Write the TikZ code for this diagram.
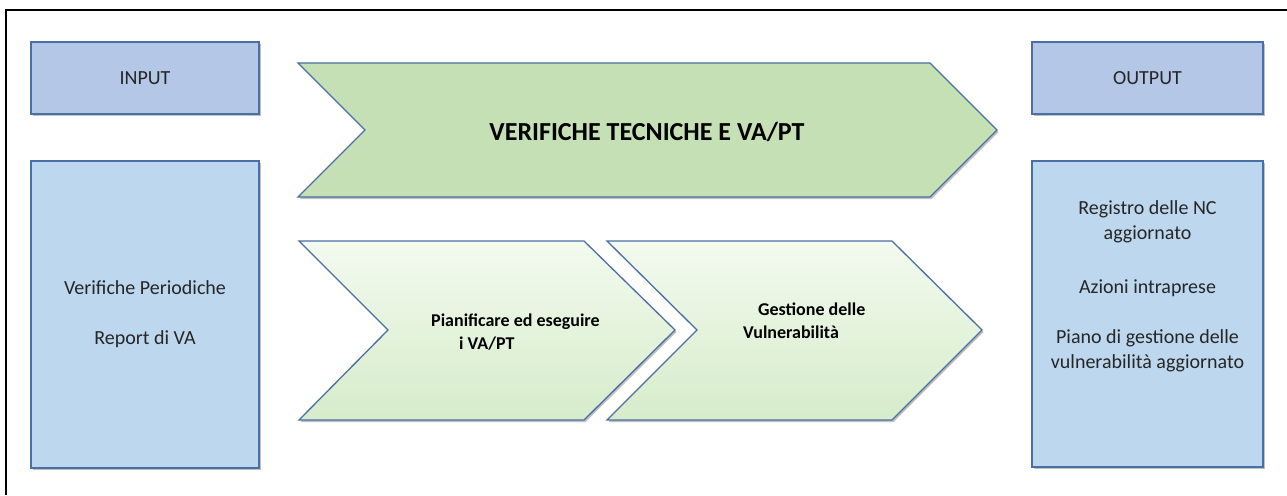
\documentclass[tikz,border=0pt]{standalone}
\usepackage{fontspec}
\setmainfont{Carlito}
\usetikzlibrary{shadows}
\definecolor{hdrfill}{HTML}{B4C7E7}
\definecolor{boxfill}{HTML}{BDD7EE}
\definecolor{edge}{HTML}{4A6FA5}
\definecolor{bigfill}{HTML}{C5E0B4}
\definecolor{smtop}{HTML}{F3FAEF}
\definecolor{smbot}{HTML}{D6ECCA}
\definecolor{txt}{HTML}{262626}
\tikzset{
  shad/.style={drop shadow={shadow xshift=1.5pt, shadow yshift=-2pt, opacity=0.35, fill=black!70}},
  hdrbox/.style={shad, draw=edge, line width=1.3pt, fill=hdrfill, text=txt, inner sep=0pt,
    font=\fontsize{20}{25}\selectfont},
  contbox/.style={shad, draw=edge, line width=1.3pt, fill=boxfill, text=txt, inner sep=0pt,
    align=center, font=\fontsize{20}{25}\selectfont},
  bigchev/.style={shad, draw=edge, line width=1.3pt, fill=bigfill, line join=miter},
  smallchev/.style={shad, draw=edge, line width=1.3pt, top color=smtop, bottom color=smbot, line join=miter},
  chevtxt/.style={inner sep=0pt, align=left, text=black, font=\bfseries\fontsize{18}{23}\selectfont},
}
\begin{document}
\begin{tikzpicture}[x=1pt,y=-1pt]
\useasboundingbox (0,0) rectangle (1287,495);
\fill[white] (0,0) rectangle (1287,495);
\draw[black, line width=1.2pt] (6,495) -- (6,10) -- (1287,10);

% input side
\node[hdrbox, minimum width=228pt, minimum height=72pt] (inhdr) at (145,78) {INPUT};
\node[contbox, minimum width=228pt, minimum height=307pt] (inbox) at (145,314.5)
  {Verifiche Periodiche\\[25pt]Report di VA};

% output side
\node[hdrbox, minimum width=231pt, minimum height=72pt] (outhdr) at (1147.5,78) {OUTPUT};
\node[contbox, minimum width=231pt, minimum height=306pt] (outbox) at (1147.5,314) {};
\node[inner sep=0pt, align=center, text=txt, font=\fontsize{20}{25}\selectfont] (outtxt) at (1147.5,286)
  {Registro delle NC\\aggiornato\\[29pt]Azioni intraprese\\[25pt]Piano di gestione delle\\vulnerabilità aggiornato};

% big chevron
\draw[bigchev] (298,63) -- (930,63) -- (997,130) -- (930,197) -- (298,197) -- (365,130) -- cycle;
\node[inner sep=0pt, text=black, font=\bfseries\fontsize{26}{30}\selectfont] (vt) at (647,132) {VERIFICHE TECNICHE E VA/PT};

% small chevrons
\draw[smallchev] (299,241) -- (584,241) -- (675,330) -- (584,420) -- (299,420) -- (388,330) -- cycle;
\draw[smallchev] (607,241) -- (892,241) -- (982,330) -- (892,420) -- (607,420) -- (697,330) -- cycle;
\node[chevtxt, anchor=north west] (plan) at (431,314) {Pianificare ed eseguire\\\hspace*{28pt}i VA/PT};
\node[chevtxt, anchor=north west] (gest) at (743,303) {\hspace*{15pt}Gestione delle\\Vulnerabilità};
\end{tikzpicture}
\end{document}
